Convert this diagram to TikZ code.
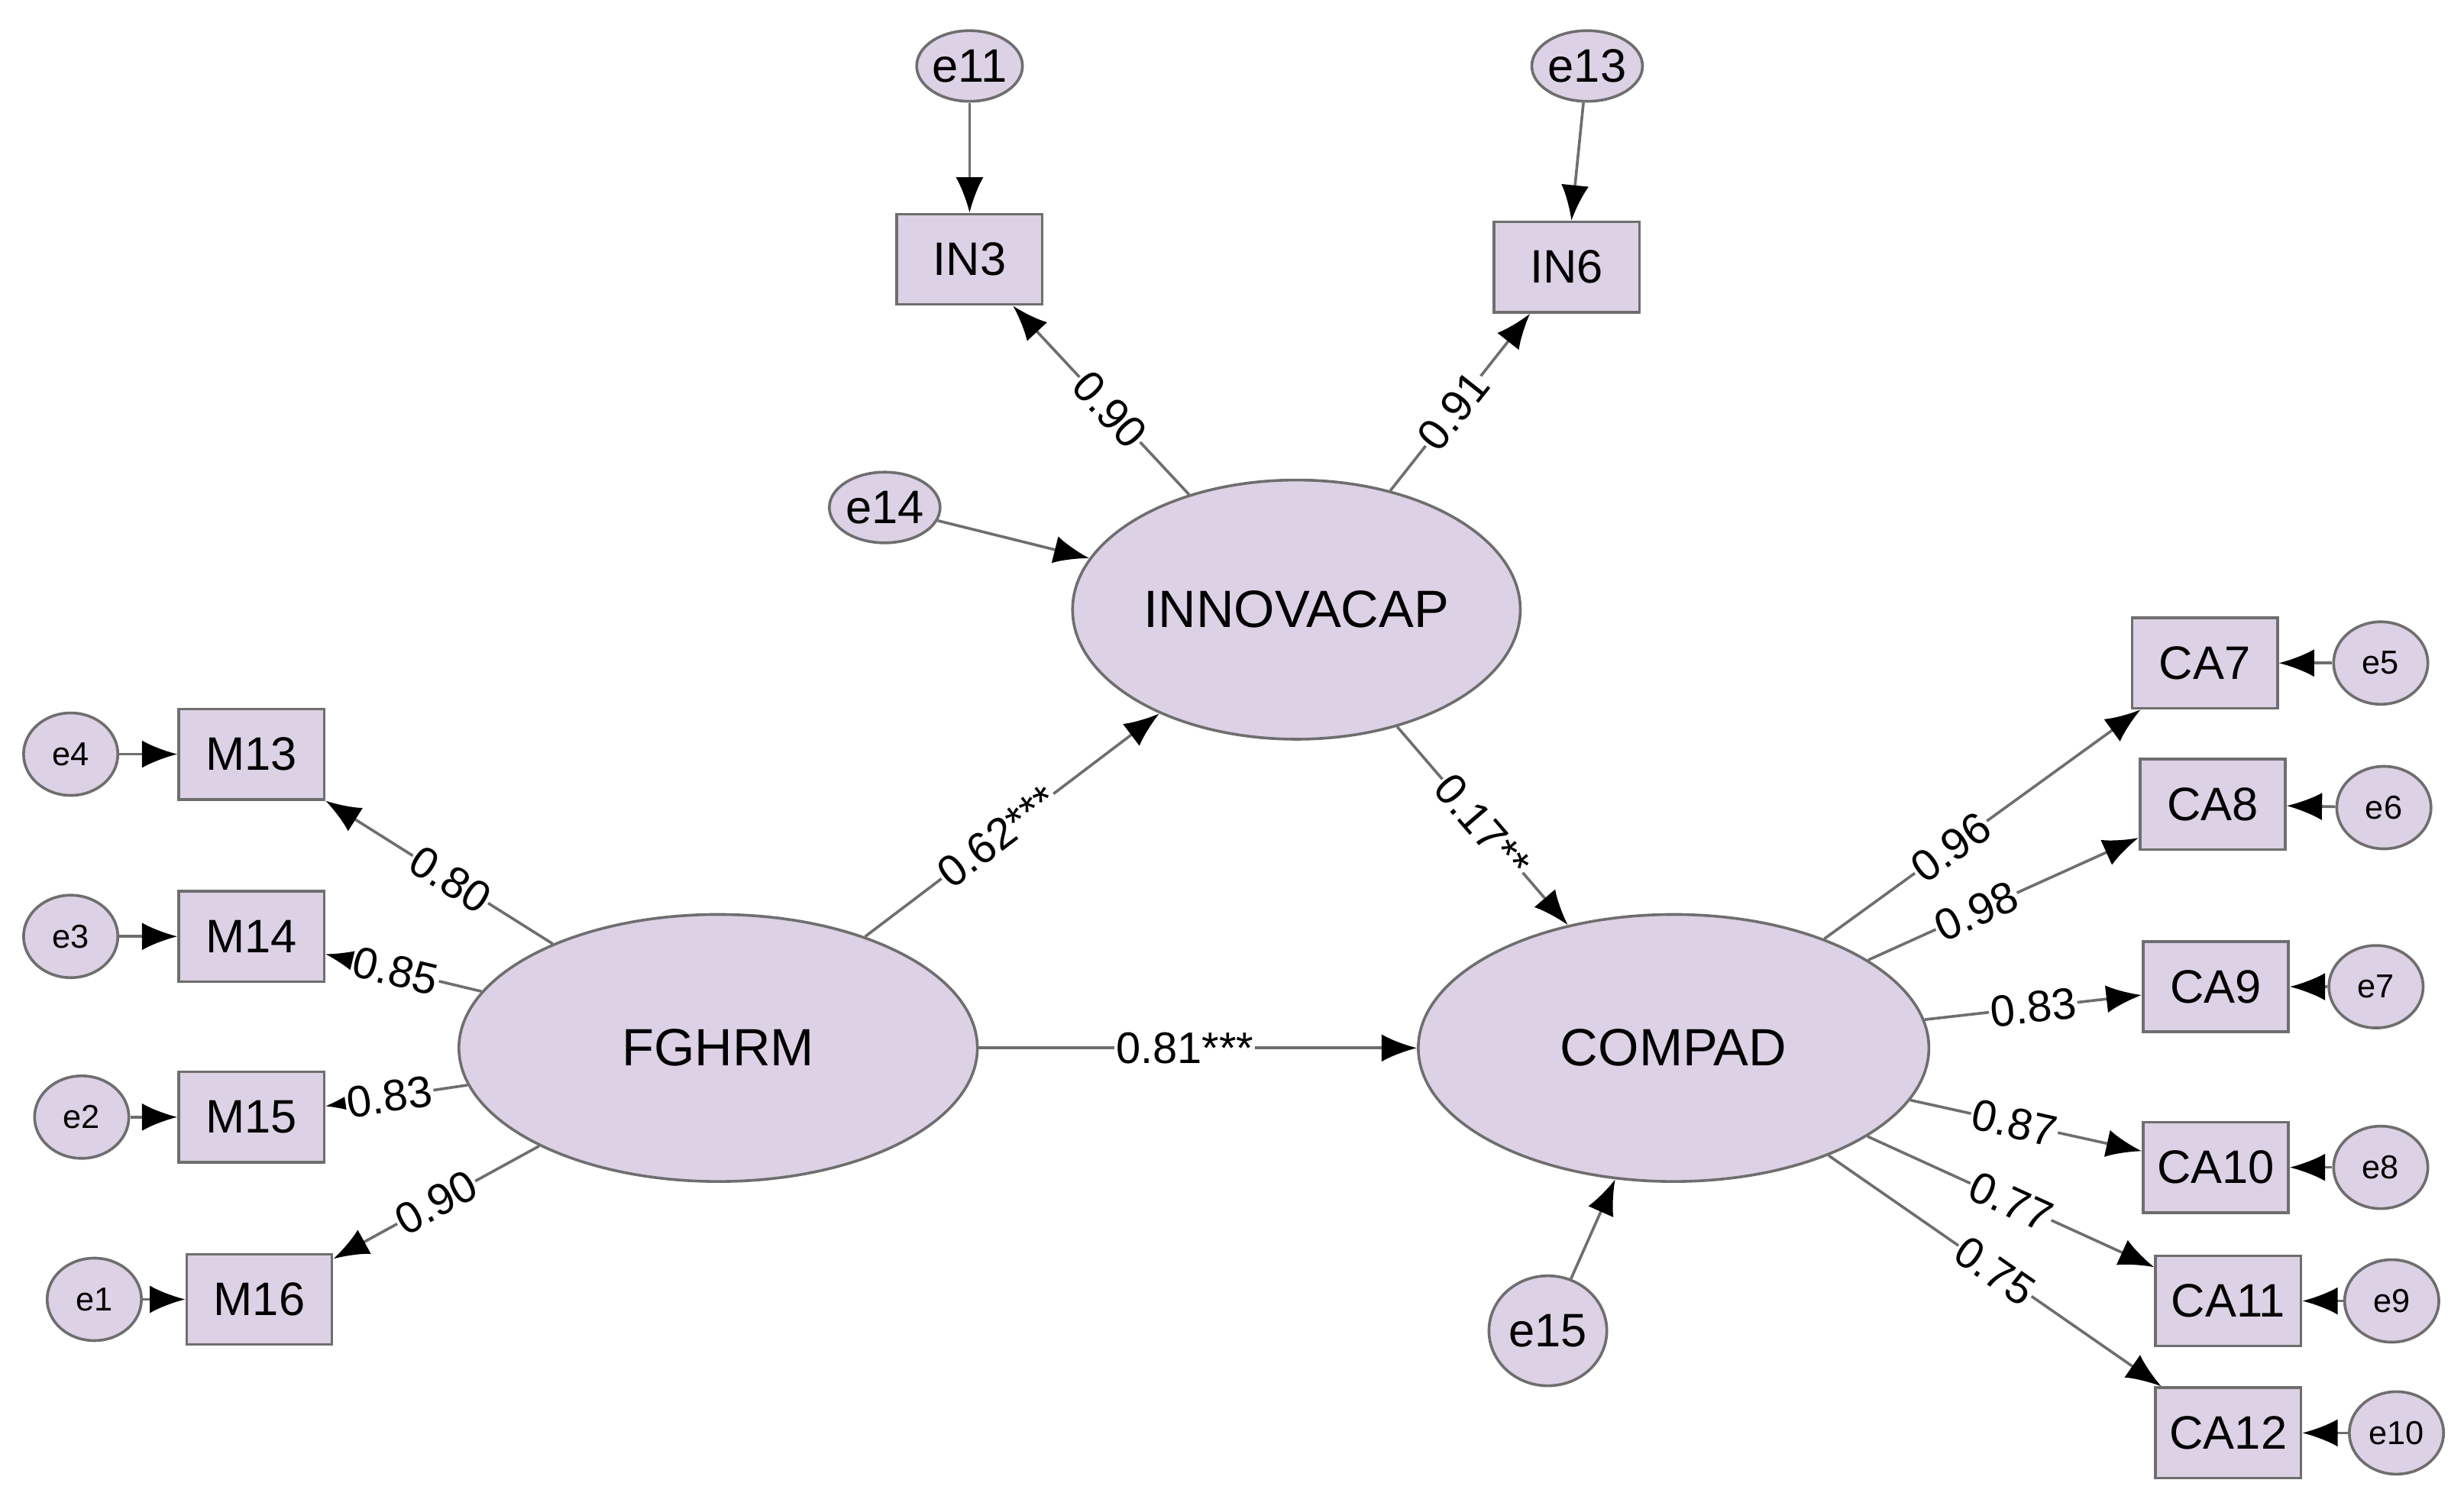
\documentclass[tikz,border=0pt]{standalone}
\usepackage{fontspec}
\setmainfont{Liberation Sans}
\usetikzlibrary{arrows.meta,shapes.geometric}
\definecolor{lav}{RGB}{221,209,229}
\definecolor{ln}{RGB}{110,110,110}
\begin{document}
\begin{tikzpicture}[x=0.02cm,y=-0.02cm,
 lat/.style={ellipse,draw=ln,fill=lav,line width=1pt,inner sep=0pt,font=\fontsize{19}{19}\selectfont},
 obs/.style={rectangle,draw=ln,fill=lav,line width=1pt,inner sep=1pt,minimum width=1.85cm,minimum height=1.15cm,font=\fontsize{17}{17}\selectfont},
 err/.style={ellipse,draw=ln,fill=lav,line width=1pt,minimum width=1.2cm,minimum height=1.05cm,inner sep=0pt,font=\fontsize{12}{12}\selectfont},
 arr/.style={draw=ln,line width=1pt,-{Latex[length=0.45cm,width=0.35cm,color=black]}},
 lab/.style={sloped,fill=white,inner sep=0.5pt,font=\fontsize{16}{16}\selectfont}]
\useasboundingbox (0,0) rectangle (1568,960);
% latent
\node[lat,minimum width=5.7cm,minimum height=3.3cm] (inn) at (825,388) {INNOVACAP};
\node[lat,minimum width=6.6cm,minimum height=3.4cm] (fg) at (457,667) {FGHRM};
\node[lat,minimum width=6.5cm,minimum height=3.4cm] (cp) at (1065,667) {COMPAD};
% IN
\node[obs] (in3) at (617,165) {IN3};
\node[obs] (in6) at (997,170) {IN6};
\node[err,font=\fontsize{17}{17}\selectfont,minimum width=1.25cm,minimum height=0.9cm] (e11) at (617,42) {e11};
\node[err,font=\fontsize{17}{17}\selectfont,minimum width=1.25cm,minimum height=0.9cm] (e13) at (1010,42) {e13};
\node[err,font=\fontsize{17}{17}\selectfont,minimum width=1.25cm,minimum height=0.9cm] (e14) at (563,323) {e14};
\node[err,font=\fontsize{17}{17}\selectfont,minimum width=1.5cm,minimum height=1.4cm] (e15) at (985,847) {e15};
% M
\node[obs] (m13) at (160,480) {M13};
\node[obs] (m14) at (160,596) {M14};
\node[obs] (m15) at (160,711) {M15};
\node[obs] (m16) at (165,827) {M16};
\node[err] (e4) at (45,480) {e4};
\node[err] (e3) at (45,596) {e3};
\node[err] (e2) at (52,711) {e2};
\node[err] (e1) at (60,827) {e1};
% CA
\node[obs] (ca7) at (1403,422) {CA7};
\node[obs] (ca8) at (1408,512) {CA8};
\node[obs] (ca9) at (1410,628) {CA9};
\node[obs] (ca10) at (1410,743) {CA10};
\node[obs] (ca11) at (1418,828) {CA11};
\node[obs] (ca12) at (1418,912) {CA12};
\node[err] (e5) at (1515,422) {e5};
\node[err] (e6) at (1517,514) {e6};
\node[err] (e7) at (1512,628) {e7};
\node[err] (e8) at (1515,743) {e8};
\node[err] (e9) at (1522,828) {e9};
\node[err] (e10) at (1525,912) {e10};
% errors
\draw[arr] (e11) -- (in3);
\draw[arr] (e13) -- (in6);
\draw[arr] (e14) -- (inn);
\draw[arr] (e15) -- (cp);
\foreach \a/\b in {e4/m13,e3/m14,e2/m15,e1/m16,e5/ca7,e6/ca8,e7/ca9,e8/ca10,e9/ca11,e10/ca12}
  \draw[arr] (\a) -- (\b);
% loadings
\draw[arr] (inn) -- node[lab,pos=0.45]{0.90} (in3);
\draw[arr] (inn) -- node[lab,pos=0.45]{0.91} (in6);
\draw[arr] (fg) -- node[lab,pos=0.45]{0.80} (m13);
\draw[arr] (fg) -- node[lab,pos=0.55]{0.85} (m14);
\draw[arr] (fg) -- node[lab,pos=0.55]{0.83} (m15);
\draw[arr] (fg) -- node[lab,pos=0.5]{0.90} (m16);
\draw[arr] (cp) -- node[lab,pos=0.4]{0.96} (ca7);
\draw[arr] (cp) -- node[lab,pos=0.4]{0.98} (ca8);
\draw[arr] (cp) -- node[lab,pos=0.5]{0.83} (ca9);
\draw[arr] (cp) -- node[lab,pos=0.45]{0.87} (ca10);
\draw[arr] (cp) -- node[lab,pos=0.5]{0.77} (ca11);
\draw[arr] (cp) -- node[lab,pos=0.5]{0.75} (ca12);
% structural
\draw[arr] (fg) -- node[lab,pos=0.45]{0.62***} (inn);
\draw[arr] (inn) -- node[lab,pos=0.5]{0.17**} (cp);
\draw[arr] (fg) -- node[lab,pos=0.47]{0.81***} (cp);
\end{tikzpicture}
\end{document}
